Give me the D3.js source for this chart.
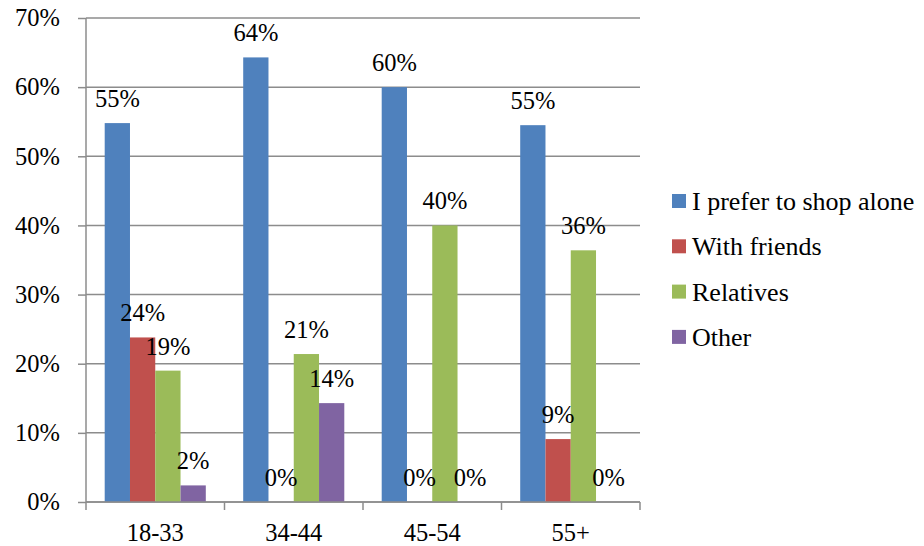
<!DOCTYPE html>
<html>
<head>
<meta charset="utf-8">
<script src="https://cdn.jsdelivr.net/npm/d3@7"></script>
<style>
  body { margin: 0; background: #fff; }
</style>
</head>
<body>
<script>
// data
var categories = ["18-33", "34-44", "45-54", "55+"];
var seriesNames = ["I prefer to shop alone", "With friends", "Relatives", "Other"];
var alone = [0.548, 0.643, 0.600, 0.545];
var friends = [0.238, 0, 0, 0.091];
var relatives = [0.190, 0.214, 0.400, 0.364];
var other = [0.024, 0.143, 0, 0];
var yTicks = [0, 0.1, 0.2, 0.3, 0.4, 0.5, 0.6, 0.7];
var colors = ["#4F81BD", "#C0504D", "#9BBB59", "#8064A2"];

var seriesValues = [alone, friends, relatives, other];
var font = "'Liberation Serif'";
var fontSize = "24.5px";

// dimensions
var margin = {top: 18, right: 284, bottom: 44, left: 86},
    width = 924 - margin.left - margin.right,
    height = 546 - margin.top - margin.bottom;

var x = d3.scaleBand().domain(categories).range([0, width]).padding(0);
var xs = d3.scaleBand().domain(seriesNames).range([0, x.bandwidth()]).paddingInner(0).paddingOuter(0.74);
var y = d3.scaleLinear().domain([0, 0.7]).range([height, 0]);

var svg = d3.select("body").append("svg")
    .attr("width", 924)
    .attr("height", 546)
  .append("g")
    .attr("transform", "translate(" + margin.left + "," + margin.top + ")");

// gridlines
svg.selectAll(".grid")
    .data(yTicks)
  .enter().append("line")
    .attr("x1", 0).attr("x2", width)
    .attr("y1", function(d) { return y(d); })
    .attr("y2", function(d) { return y(d); })
    .attr("stroke", "#8c8c8c")
    .attr("stroke-width", 1.5);

// bars
var rows = [];
categories.forEach(function(c, i) {
  seriesNames.forEach(function(s, j) {
    rows.push({cat: c, series: s, idx: j, value: seriesValues[j][i]});
  });
});

svg.selectAll(".bar")
    .data(rows)
  .enter().append("rect")
    .attr("x", function(d) { return x(d.cat) + xs(d.series); })
    .attr("y", function(d) { return y(d.value); })
    .attr("width", xs.bandwidth())
    .attr("height", function(d) { return height - y(d.value); })
    .attr("fill", function(d) { return colors[d.idx]; });

// value labels
svg.selectAll(".lbl")
    .data(rows)
  .enter().append("text")
    .attr("x", function(d) { return x(d.cat) + xs(d.series) + xs.bandwidth() / 2; })
    .attr("y", function(d) { return y(d.value) - 16; })
    .attr("text-anchor", "middle")
    .style("font-family", font)
    .style("font-size", fontSize)
    .style("fill", "#000")
    .text(function(d) { return d3.format(".0%")(d.value); });

// y axis
var yAxis = svg.append("g")
    .call(d3.axisLeft(y).tickValues(yTicks).tickSize(8).tickPadding(18).tickFormat(d3.format(".0%")));
yAxis.attr("font-family", null).attr("font-size", null);
yAxis.selectAll("text").style("font-family", font).style("font-size", fontSize).style("fill", "#000");
yAxis.selectAll("line").attr("stroke", "#8c8c8c").attr("stroke-width", 1.5);
yAxis.select(".domain").attr("stroke", "#8c8c8c").attr("stroke-width", 1.5).attr("d", "M0," + height + "V0");

// x axis
var xAxis = svg.append("g")
    .attr("transform", "translate(0," + height + ")")
    .call(d3.axisBottom(x).tickSize(0).tickPadding(22));
xAxis.attr("font-family", null).attr("font-size", null);
xAxis.selectAll("text").style("font-family", font).style("font-size", fontSize).style("fill", "#000");
xAxis.select(".domain").attr("stroke", "#8c8c8c").attr("stroke-width", 1.5).attr("d", "M0,0H" + width);

// tick marks between categories
var bounds = categories.map(function(c) { return x(c); }).concat([width]);
xAxis.selectAll(".sep")
    .data(bounds)
  .enter().append("line")
    .attr("x1", function(d) { return d; })
    .attr("x2", function(d) { return d; })
    .attr("y1", 0).attr("y2", 8)
    .attr("stroke", "#8c8c8c")
    .attr("stroke-width", 1.5);

// legend
var legend = svg.append("g")
    .attr("transform", "translate(" + (672 - margin.left) + "," + (194 - margin.top) + ")");

var item = legend.selectAll(".item")
    .data(seriesNames)
  .enter().append("g")
    .attr("transform", function(d, i) { return "translate(0," + (i * 45.3) + ")"; });

item.append("rect")
    .attr("width", 14).attr("height", 14)
    .attr("fill", function(d, i) { return colors[i]; });

item.append("text")
    .attr("x", 20)
    .attr("y", 7)
    .attr("dy", "0.35em")
    .style("font-family", font)
    .style("font-size", "26px")
    .style("fill", "#000")
    .text(function(d) { return d; });
</script>
</body>
</html>
